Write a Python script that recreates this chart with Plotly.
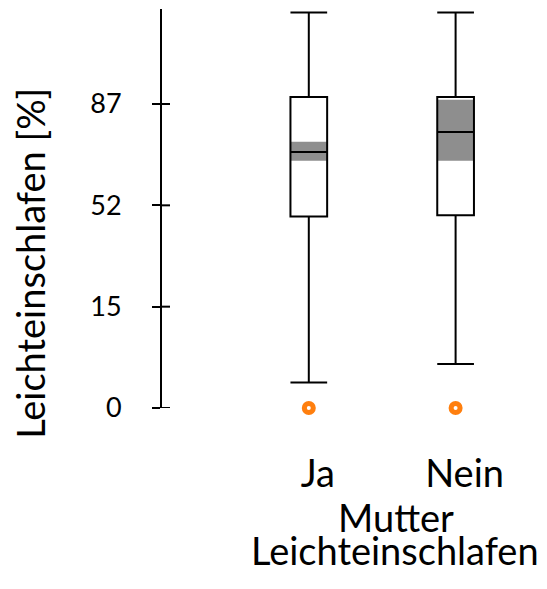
import math
import plotly.graph_objects as go

# Box statistics per group, in percent
groups = ["Ja", "Nein"]
upper_whisker = [99.99, 99.99]
q3_pct = [88.7, 88.7]
median_pct = [71.8, 78.6]
q1_pct = [47.1, 47.5]
lower_whisker = [1.0, 3.0]
# confidence band around the median
ci_low = [68.6, 68.6]
ci_high = [75.3, 88.0]
# outliers
outlier_groups = ["Ja", "Nein"]
outlier_pct = [0.0, 0.0]

# y axis is drawn in arcsine-square-root units; ticks labelled in percent
tick_positions = [0.0, 0.4, 0.8, 1.2]
tick_labels = ["0", "15", "52", "87"]

FONT = "Lato, 'Open Sans', sans-serif"


def asin_sqrt(p):
    return math.asin(math.sqrt(p / 100.0))


def tr(values):
    return [asin_sqrt(v) for v in values]


W, H = 547, 589
L, R, T, B = 162, 17.5, 9.35, 180.7
plot_w = W - L - R
plot_h = H - T - B


def px_x(p):
    return (p - L) / plot_w


def px_y(p):
    return (H - B - p) / plot_h


fig = go.Figure()

# shaded band behind the median line
lo = tr(ci_low)
hi = tr(ci_high)
fig.add_trace(go.Bar(
    x=groups, base=lo, y=[h - l for h, l in zip(hi, lo)],
    width=0.25, marker=dict(color="#8e8e8e", line=dict(width=0)),
    showlegend=False, hoverinfo="skip",
))

fig.add_trace(go.Box(
    x=groups,
    q1=tr(q1_pct), median=tr(median_pct), q3=tr(q3_pct),
    lowerfence=tr(lower_whisker), upperfence=tr(upper_whisker),
    boxpoints=False, width=0.25, whiskerwidth=1,
    fillcolor="rgba(0,0,0,0)", line=dict(color="black", width=2),
    showlegend=False,
))

fig.add_trace(go.Scatter(
    x=outlier_groups, y=tr(outlier_pct), mode="markers", cliponaxis=False,
    marker=dict(symbol="circle", size=9, color="white",
                line=dict(color="#ff7f0e", width=5)),
    showlegend=False,
))

# tick marks continue to the right of the axis line
inner_ticks = [
    dict(type="line", xref="paper", xsizemode="pixel", xanchor=0,
         x0=0, x1=8, yref="y", y0=t, y1=t,
         line=dict(color="black", width=2), layer="above")
    for t in tick_positions
]

fig.update_layout(
    width=W, height=H, autosize=False,
    margin=dict(l=L, r=R, t=T, b=B, pad=0),
    paper_bgcolor="white", plot_bgcolor="white",
    font=dict(family=FONT, color="black"),
    barmode="overlay",
    xaxis=dict(
        type="category", range=[-1, 1.5], showline=False, ticks="",
        showgrid=False, zeroline=False,
        tickfont=dict(size=38, family=FONT),
        ticklabelstandoff=40, ticklabelshift=9,
    ),
    yaxis=dict(
        range=[0, 1.575], showline=True, linewidth=2, linecolor="black",
        ticks="outside", ticklen=8, tickwidth=2, tickcolor="black",
        tickmode="array", tickvals=tick_positions, ticktext=tick_labels,
        tickfont=dict(size=27, family=FONT), ticklabelstandoff=25,
        showgrid=False, zeroline=False,
    ),
    shapes=inner_ticks,
    annotations=[
        dict(text="Leichteinschlafen [%]", textangle=-90, showarrow=False,
             xref="paper", yref="paper", x=px_x(30), y=px_y(264),
             xanchor="center", yanchor="middle",
             font=dict(size=38, family=FONT)),
        dict(text="Mutter", showarrow=False,
             xref="paper", yref="paper", x=px_x(396), y=px_y(517),
             xanchor="center", yanchor="middle",
             font=dict(size=38, family=FONT)),
        dict(text="Leichteinschlafen", showarrow=False,
             xref="paper", yref="paper", x=px_x(395), y=px_y(550),
             xanchor="center", yanchor="middle",
             font=dict(size=38, family=FONT)),
    ],
)

fig.write_html("out.html")
